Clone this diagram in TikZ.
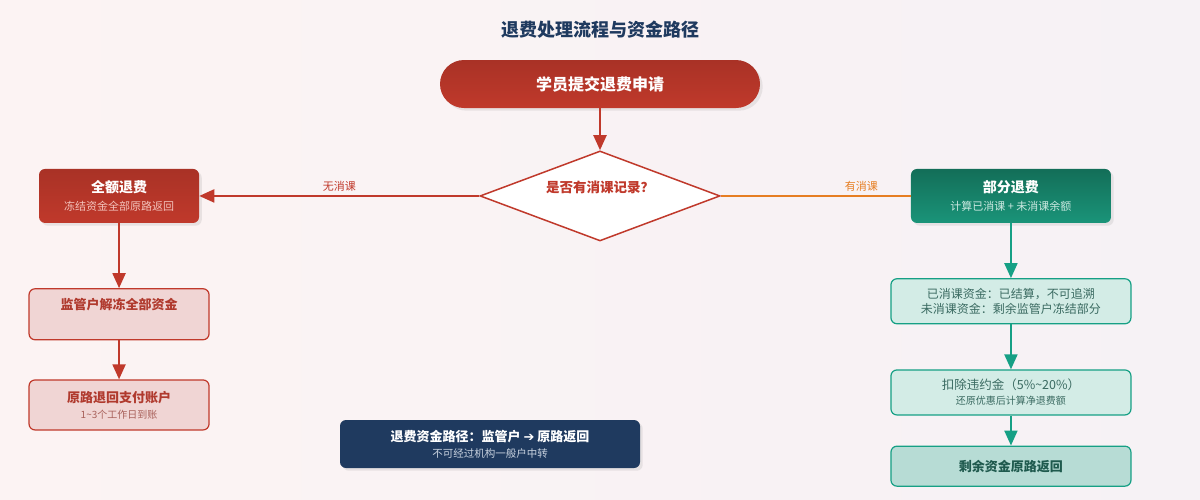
\documentclass[tikz,border=0pt]{standalone}
\usepackage{fontspec}
\setmainfont{Noto Sans CJK SC}
\newfontfamily\arrowfont{DejaVu Sans}
\usetikzlibrary{positioning,shapes.geometric,arrows.meta,shadows}

\definecolor{bgleft}{HTML}{FCF3F3}
\definecolor{bgright}{HTML}{F6F2F5}
\definecolor{navy}{HTML}{1F3A5F}
\definecolor{redtop}{HTML}{A93226}
\definecolor{redbot}{HTML}{C0392B}
\definecolor{redline}{HTML}{C0392B}
\definecolor{redtext}{HTML}{B03A2E}
\definecolor{redsub}{HTML}{F3C3BC}
\definecolor{pinkfill}{HTML}{F0D5D4}
\definecolor{pinksub}{HTML}{A8605A}
\definecolor{tealtop}{HTML}{136E58}
\definecolor{tealbot}{HTML}{1A9479}
\definecolor{tealline}{HTML}{16A085}
\definecolor{tealsub}{HTML}{CDEAE2}
\definecolor{tealfill}{HTML}{D3ECE6}
\definecolor{tealdeep}{HTML}{B7DCD5}
\definecolor{tealtext}{HTML}{3A6A61}
\definecolor{tealbold}{HTML}{1F5A4E}
\definecolor{orangeline}{HTML}{E67E22}
\definecolor{navysub}{HTML}{C9D3E0}

\begin{document}
\begin{tikzpicture}[x=1pt, y=1pt, node distance=40pt,
    redbox/.style = {rectangle, rounded corners=6pt, top color=redtop, bottom color=redbot, draw=none, text=white, align=center, drop shadow={opacity=0.15}},
    pinkbox/.style = {rectangle, rounded corners=6pt, fill=pinkfill, draw=redline, line width=1.2pt, text=redtext, align=center, minimum width=180pt},
    tealbox/.style = {rectangle, rounded corners=6pt, top color=tealtop, bottom color=tealbot, draw=none, text=white, align=center, drop shadow={opacity=0.15}},
    mintbox/.style = {rectangle, rounded corners=6pt, fill=tealfill, draw=tealline, line width=1.2pt, text=tealtext, align=center, minimum width=240pt, minimum height=45pt},
    redarrow/.style = {draw=redline, line width=2pt, -{Triangle[width=13pt,length=15pt]}},
    tealarrow/.style = {draw=tealline, line width=2pt, -{Triangle[width=13pt,length=15pt]}}]
    % background
    \fill[left color=bgleft, right color=bgright] (0,0) rectangle (1200,-499);
    \node[text=navy, font=\fontsize{18}{22}\selectfont\bfseries] (title) at (600,-30) {退费处理流程与资金路径};
    % top of the flow
    \node[redbox, rounded corners=24pt, minimum width=320pt, minimum height=48pt, font=\fontsize{16}{19}\selectfont\bfseries] (apply) at (600,-84) {学员提交退费申请};
    \node[diamond, aspect=2.67, draw=redline, line width=1.5pt, fill=white, minimum width=240pt, minimum height=90pt, inner sep=0pt, text depth=18pt, text=redline, font=\fontsize{13.5}{16}\selectfont\bfseries] (check) [below=42pt of apply] {是否有消课记录？};
    % full refund branch
    \node[redbox, minimum width=160pt, minimum height=54pt, font=\fontsize{14}{18}\selectfont] (full) [left=280pt of check] {\textbf{全额退费}\\{\fontsize{11}{14}\selectfont\color{redsub}冻结资金全部原路返回}};
    \node[pinkbox, minimum height=51pt, font=\fontsize{13}{16}\selectfont\bfseries] (unfreeze) [below=65pt of full] {监管户解冻全部资金\\[4pt]};
    \node[pinkbox, minimum height=50pt, font=\fontsize{13}{16}\selectfont] (back) [below=39pt of unfreeze] {\textbf{原路退回支付账户}\\{\fontsize{10}{13}\selectfont\color{pinksub}1\textasciitilde3个工作日到账}};
    % partial refund branch
    \node[tealbox, minimum width=200pt, minimum height=54pt, font=\fontsize{14}{18}\selectfont] (part) [right=190pt of check] {\textbf{部分退费}\\{\fontsize{11}{14}\selectfont\color{tealsub}计算已消课 + 未消课余额}};
    \node[mintbox, font=\fontsize{12}{15}\selectfont] (settle) [below=55pt of part] {已消课资金：已结算，不可追溯\\未消课资金：剩余监管户冻结部分};
    \node[mintbox, font=\fontsize{12.5}{15}\selectfont] (deduct) [below=45pt of settle] {扣除违约金（5\%\textasciitilde20\%）\\{\fontsize{10}{13}\selectfont 还原优惠后计算净退费额}};
    \node[mintbox, fill=tealdeep, minimum height=40pt, text=tealbold, font=\fontsize{13}{16}\selectfont\bfseries] (remain) [below=30pt of deduct] {剩余资金原路返回};
    % note on the money path
    \node[rectangle, rounded corners=6pt, fill=navy, text=white, align=center, minimum width=300pt, minimum height=48pt, drop shadow={opacity=0.15}, font=\fontsize{13}{16}\selectfont] (path) at (490,-444) {\textbf{退费资金路径：监管户 {\arrowfont ➔} 原路返回}\\{\fontsize{10.5}{13}\selectfont\color{navysub}不可经过机构一般户中转}};
    % connectors
    \draw[redarrow] (apply) -- (check);
    \draw[redarrow] (check) -- node[midway, above, text=redline, font=\fontsize{11}{13}\selectfont] {无消课} (full);
    \draw[draw=orangeline, line width=1.5pt] (check) -- node[pos=0.74, above, text=orangeline, font=\fontsize{11}{13}\selectfont] {有消课} (part);
    \draw[redarrow] (full) -- (unfreeze);
    \draw[redarrow] (unfreeze) -- (back);
    \draw[tealarrow] (part) -- (settle);
    \draw[tealarrow] (settle) -- (deduct);
    \draw[tealarrow] (deduct) -- (remain);
\end{tikzpicture}
\end{document}
